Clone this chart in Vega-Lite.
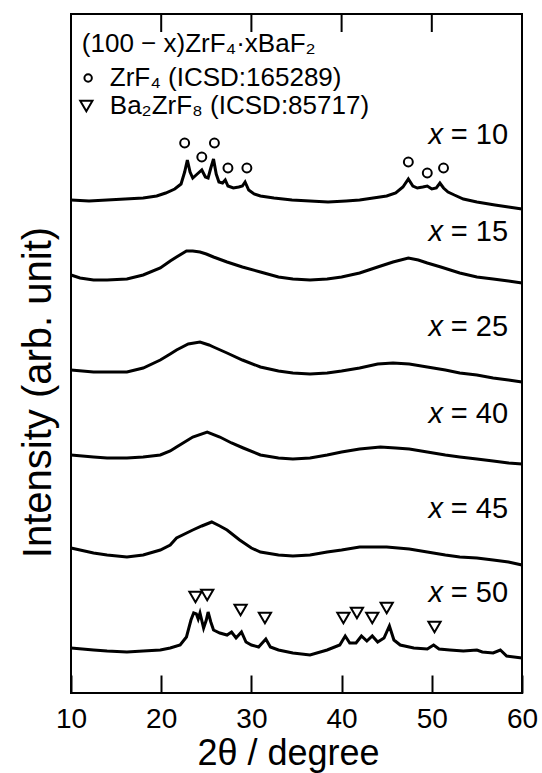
{
  "$schema": "https://vega.github.io/schema/vega-lite/v6.json",
  "width": 451,
  "height": 679,
  "autosize": {"type": "none"},
  "padding": {"left": 71, "top": 14, "right": 20, "bottom": 80},
  "background": "white",
  "config": {
    "view": {"stroke": "black", "strokeWidth": 2},
    "font": "Liberation Sans",
    "axis": {"grid": false, "domain": false}
  },
  "datasets": {
    "traces": [
      {"s":"10","t":10,"v":493},{"s":"10","t":12,"v":492},{"s":"10","t":14,"v":493},{"s":"10","t":16,"v":494},{"s":"10","t":18,"v":495},{"s":"10","t":19.5,"v":497},{"s":"10","t":20.5,"v":500},{"s":"10","t":21.5,"v":504},{"s":"10","t":22.2,"v":509},{"s":"10","t":22.6,"v":521},{"s":"10","t":22.9,"v":533},{"s":"10","t":23.2,"v":521},{"s":"10","t":23.5,"v":515},{"s":"10","t":24.0,"v":519},{"s":"10","t":24.5,"v":523},{"s":"10","t":24.9,"v":516},{"s":"10","t":25.2,"v":515},{"s":"10","t":25.5,"v":525},{"s":"10","t":25.8,"v":534},{"s":"10","t":26.1,"v":519},{"s":"10","t":26.4,"v":511},{"s":"10","t":26.8,"v":510},{"s":"10","t":27.1,"v":513},{"s":"10","t":27.4,"v":507},{"s":"10","t":28.0,"v":505},{"s":"10","t":28.6,"v":506},{"s":"10","t":29.0,"v":507},{"s":"10","t":29.3,"v":511},{"s":"10","t":29.7,"v":503},{"s":"10","t":30.3,"v":499},{"s":"10","t":31,"v":497},{"s":"10","t":32.5,"v":495},{"s":"10","t":34.5,"v":493},{"s":"10","t":36.5,"v":492},{"s":"10","t":38.5,"v":491},{"s":"10","t":40.5,"v":492},{"s":"10","t":42,"v":493},{"s":"10","t":43.5,"v":495},{"s":"10","t":45,"v":497},{"s":"10","t":46,"v":500},{"s":"10","t":46.8,"v":506},{"s":"10","t":47.4,"v":514},{"s":"10","t":47.9,"v":507},{"s":"10","t":48.4,"v":505},{"s":"10","t":49,"v":506},{"s":"10","t":49.5,"v":507},{"s":"10","t":50.0,"v":504},{"s":"10","t":50.5,"v":505},{"s":"10","t":50.9,"v":510},{"s":"10","t":51.3,"v":505},{"s":"10","t":51.8,"v":501},{"s":"10","t":52.5,"v":498},{"s":"10","t":53.5,"v":494},{"s":"10","t":55,"v":491},{"s":"10","t":57,"v":488},{"s":"10","t":58.5,"v":486},{"s":"10","t":60,"v":484},

      {"s":"15","t":10,"v":418},{"s":"15","t":11,"v":415},{"s":"15","t":12.5,"v":413},{"s":"15","t":14,"v":413},{"s":"15","t":16.2,"v":414},{"s":"15","t":18,"v":418},{"s":"15","t":19.9,"v":425},{"s":"15","t":21,"v":432},{"s":"15","t":21.7,"v":436},{"s":"15","t":22.8,"v":442},{"s":"15","t":23.5,"v":442},{"s":"15","t":24.3,"v":441},{"s":"15","t":25,"v":439},{"s":"15","t":25.8,"v":436},{"s":"15","t":27.3,"v":431},{"s":"15","t":29,"v":426},{"s":"15","t":31,"v":421},{"s":"15","t":33,"v":416},{"s":"15","t":34.6,"v":414},{"s":"15","t":36.5,"v":413},{"s":"15","t":38.4,"v":414},{"s":"15","t":40,"v":416},{"s":"15","t":42,"v":420},{"s":"15","t":44,"v":426},{"s":"15","t":45.7,"v":431},{"s":"15","t":47.4,"v":435},{"s":"15","t":48.5,"v":433},{"s":"15","t":49.5,"v":430},{"s":"15","t":51,"v":426},{"s":"15","t":53.1,"v":420},{"s":"15","t":55,"v":416},{"s":"15","t":56.8,"v":414},{"s":"15","t":58.5,"v":412},{"s":"15","t":60,"v":410},

      {"s":"25","t":10,"v":323},{"s":"25","t":12.5,"v":321},{"s":"25","t":14,"v":321},{"s":"25","t":16.2,"v":321},{"s":"25","t":18,"v":325},{"s":"25","t":19.9,"v":333},{"s":"25","t":21,"v":339},{"s":"25","t":21.7,"v":343},{"s":"25","t":23,"v":349},{"s":"25","t":24.3,"v":351},{"s":"25","t":25.3,"v":348},{"s":"25","t":25.8,"v":346},{"s":"25","t":27.3,"v":340},{"s":"25","t":29,"v":333},{"s":"25","t":31,"v":326},{"s":"25","t":33,"v":322},{"s":"25","t":34.6,"v":320},{"s":"25","t":36.5,"v":319},{"s":"25","t":38.4,"v":320},{"s":"25","t":40,"v":322},{"s":"25","t":42,"v":325},{"s":"25","t":44,"v":329},{"s":"25","t":45.7,"v":330},{"s":"25","t":47.5,"v":329},{"s":"25","t":49.5,"v":326},{"s":"25","t":51.5,"v":323},{"s":"25","t":53.1,"v":320},{"s":"25","t":55,"v":318},{"s":"25","t":56.8,"v":315},{"s":"25","t":58.5,"v":313},{"s":"25","t":60,"v":311},

      {"s":"40","t":10,"v":238},{"s":"40","t":12.5,"v":236},{"s":"40","t":14,"v":235},{"s":"40","t":16.2,"v":235},{"s":"40","t":18,"v":236},{"s":"40","t":19.9,"v":238},{"s":"40","t":21,"v":242},{"s":"40","t":21.7,"v":246},{"s":"40","t":23.5,"v":256},{"s":"40","t":25.1,"v":261},{"s":"40","t":26.5,"v":256},{"s":"40","t":27.8,"v":250},{"s":"40","t":29.1,"v":245},{"s":"40","t":31,"v":238},{"s":"40","t":33,"v":235},{"s":"40","t":34.6,"v":234},{"s":"40","t":36.5,"v":235},{"s":"40","t":38.4,"v":238},{"s":"40","t":40,"v":241},{"s":"40","t":42,"v":244},{"s":"40","t":44.3,"v":246},{"s":"40","t":46,"v":245},{"s":"40","t":47.5,"v":244},{"s":"40","t":49.5,"v":241},{"s":"40","t":51.5,"v":238},{"s":"40","t":53.1,"v":236},{"s":"40","t":55,"v":234},{"s":"40","t":56.8,"v":232},{"s":"40","t":58.5,"v":230},{"s":"40","t":60,"v":229},

      {"s":"45","t":10,"v":145},{"s":"45","t":12.5,"v":140},{"s":"45","t":14,"v":138},{"s":"45","t":16.2,"v":136},{"s":"45","t":18,"v":138},{"s":"45","t":19.9,"v":143},{"s":"45","t":21,"v":148},{"s":"45","t":21.7,"v":155},{"s":"45","t":23.5,"v":163},{"s":"45","t":24.5,"v":167},{"s":"45","t":25.6,"v":171},{"s":"45","t":26.5,"v":167},{"s":"45","t":27.3,"v":163},{"s":"45","t":28.7,"v":153},{"s":"45","t":30,"v":145},{"s":"45","t":31,"v":141},{"s":"45","t":33,"v":138},{"s":"45","t":34.6,"v":137},{"s":"45","t":36.5,"v":138},{"s":"45","t":38.4,"v":141},{"s":"45","t":40,"v":143},{"s":"45","t":42,"v":146},{"s":"45","t":45,"v":146},{"s":"45","t":47.5,"v":144},{"s":"45","t":49.5,"v":141},{"s":"45","t":51.5,"v":138},{"s":"45","t":53.1,"v":136},{"s":"45","t":55,"v":135},{"s":"45","t":56.8,"v":133},{"s":"45","t":58.5,"v":131},{"s":"45","t":60,"v":128},

      {"s":"50","t":10,"v":45},{"s":"50","t":12.5,"v":43},{"s":"50","t":14,"v":42},{"s":"50","t":16.2,"v":41},{"s":"50","t":18,"v":42},{"s":"50","t":19.9,"v":43},{"s":"50","t":21,"v":45},{"s":"50","t":22.1,"v":48},{"s":"50","t":22.8,"v":56},{"s":"50","t":23.3,"v":73},{"s":"50","t":23.6,"v":80},{"s":"50","t":23.9,"v":79},{"s":"50","t":24.1,"v":74},{"s":"50","t":24.3,"v":80},{"s":"50","t":24.7,"v":65},{"s":"50","t":25.0,"v":73},{"s":"50","t":25.2,"v":81},{"s":"50","t":25.5,"v":71},{"s":"50","t":25.8,"v":63},{"s":"50","t":26.5,"v":60},{"s":"50","t":27.3,"v":58},{"s":"50","t":27.8,"v":61},{"s":"50","t":28.3,"v":55},{"s":"50","t":28.9,"v":61},{"s":"50","t":29.4,"v":51},{"s":"50","t":30,"v":48},{"s":"50","t":30.8,"v":46},{"s":"50","t":31.6,"v":54},{"s":"50","t":32.1,"v":46},{"s":"50","t":33,"v":43},{"s":"50","t":34.6,"v":40},{"s":"50","t":36.5,"v":38},{"s":"50","t":38.4,"v":43},{"s":"50","t":39.8,"v":48},{"s":"50","t":40.4,"v":57},{"s":"50","t":40.9,"v":50},{"s":"50","t":41.6,"v":50},{"s":"50","t":42.2,"v":57},{"s":"50","t":42.8,"v":52},{"s":"50","t":43.4,"v":57},{"s":"50","t":44.0,"v":51},{"s":"50","t":44.7,"v":55},{"s":"50","t":45.3,"v":67},{"s":"50","t":45.8,"v":53},{"s":"50","t":46.5,"v":48},{"s":"50","t":48,"v":45},{"s":"50","t":49.5,"v":44},{"s":"50","t":50.2,"v":48},{"s":"50","t":50.8,"v":44},{"s":"50","t":52,"v":43},{"s":"50","t":53.5,"v":42},{"s":"50","t":55,"v":43},{"s":"50","t":55.6,"v":41},{"s":"50","t":56.8,"v":40},{"s":"50","t":57.6,"v":43},{"s":"50","t":58.3,"v":37},{"s":"50","t":60,"v":35}
    ],
    "circles": [
      {"t":22.6,"v":550},{"t":24.5,"v":536},{"t":25.9,"v":550},{"t":27.4,"v":525},{"t":29.5,"v":525},{"t":47.4,"v":531},{"t":49.5,"v":520},{"t":51.3,"v":525}
    ],
    "legcircle": [{"t":11.9,"v":615}],
    "triangles": [
      {"t":23.8,"v":96},{"t":25.1,"v":98},{"t":28.8,"v":83},{"t":31.5,"v":75},{"t":40.2,"v":75},{"t":41.7,"v":80},{"t":43.4,"v":75},{"t":45.0,"v":85},{"t":50.3,"v":66},{"t":11.7,"v":587}
    ],
    "topticks": [{"t":20},{"t":30},{"t":40},{"t":50}],
    "labels": [
      {"t":58.45,"v":558,"n":"= 10"},{"t":58.45,"v":461,"n":"= 15"},{"t":58.45,"v":366,"n":"= 25"},{"t":58.45,"v":279,"n":"= 40"},{"t":58.45,"v":184,"n":"= 45"},{"t":58.45,"v":100,"n":"= 50"}
    ],
    "legend": [
      {"t":11.2,"v":649,"n":"(100 − x)ZrF₄·xBaF₂"},{"t":14.3,"v":615,"n":"ZrF₄ (ICSD:165289)"},{"t":14.3,"v":587,"n":"Ba₂ZrF₈ (ICSD:85717)"}
    ]
  },
  "layer": [
    {
      "data": {"name": "traces"},
      "mark": {"type": "line", "color": "black", "strokeWidth": 3, "interpolate": "linear"},
      "encoding": {
        "x": {"field": "t", "type": "quantitative", "scale": {"domain": [10, 60], "nice": false, "zero": false},
              "axis": {"orient": "bottom", "values": [10, 20, 30, 40, 50, 60], "tickSize": -18, "tickWidth": 2, "tickColor": "black",
                       "labelFontSize": 28, "labelColor": "black", "labelPadding": 30, "labelFlush": false, "labelFont": "Liberation Sans",
                       "title": "2θ / degree", "titleFontSize": 36, "titleFontWeight": "normal", "titleColor": "black", "titleFont": "Liberation Sans", "titleBaseline": "alphabetic", "titleY": 71, "titleX": 217}},
        "y": {"field": "v", "type": "quantitative", "scale": {"domain": [0, 679], "nice": false, "zero": false},
              "axis": {"labels": false, "ticks": false, "title": "Intensity (arb. unit)", "titleFontSize": 40, "titleFontWeight": "normal", "titleColor": "black", "titleFont": "Liberation Sans", "titlePadding": 13, "titleY": 378}},
        "detail": {"field": "s"}
      }
    },
    {
      "data": {"name": "topticks"},
      "mark": {"type": "rule", "color": "black", "strokeWidth": 2},
      "encoding": {
        "x": {"field": "t", "type": "quantitative"},
        "y": {"datum": 679},
        "y2": {"datum": 661}
      }
    },
    {
      "data": {"name": "circles"},
      "mark": {"type": "point", "shape": "circle", "filled": false, "color": "black", "strokeWidth": 2, "size": 80, "opacity": 1},
      "encoding": {
        "x": {"field": "t", "type": "quantitative"},
        "y": {"field": "v", "type": "quantitative"}
      }
    },
    {
      "data": {"name": "legcircle"},
      "mark": {"type": "point", "shape": "circle", "filled": false, "color": "black", "strokeWidth": 2, "size": 55, "opacity": 1},
      "encoding": {
        "x": {"field": "t", "type": "quantitative"},
        "y": {"field": "v", "type": "quantitative"}
      }
    },
    {
      "data": {"name": "triangles"},
      "mark": {"type": "point", "shape": "triangle-down", "filled": false, "color": "black", "strokeWidth": 2, "size": 150, "opacity": 1},
      "encoding": {
        "x": {"field": "t", "type": "quantitative"},
        "y": {"field": "v", "type": "quantitative"}
      }
    },
    {
      "data": {"name": "labels"},
      "mark": {"type": "text", "align": "right", "baseline": "middle", "fontSize": 29, "font": "Liberation Sans", "color": "black"},
      "encoding": {
        "x": {"field": "t", "type": "quantitative"},
        "y": {"field": "v", "type": "quantitative"},
        "text": {"field": "n"}
      }
    },
    {
      "data": {"name": "labels"},
      "mark": {"type": "text", "align": "right", "baseline": "middle", "fontSize": 29, "font": "Liberation Sans", "fontStyle": "italic", "color": "black", "text": "x", "dx": -65},
      "encoding": {
        "x": {"field": "t", "type": "quantitative"},
        "y": {"field": "v", "type": "quantitative"}
      }
    },
    {
      "data": {"name": "legend"},
      "mark": {"type": "text", "align": "left", "baseline": "middle", "fontSize": 26, "font": "Liberation Sans", "color": "black"},
      "encoding": {
        "x": {"field": "t", "type": "quantitative"},
        "y": {"field": "v", "type": "quantitative"},
        "text": {"field": "n"}
      }
    }
  ]
}
